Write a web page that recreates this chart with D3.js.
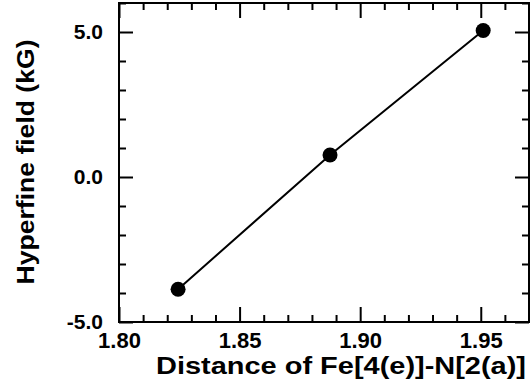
<!DOCTYPE html>
<html lang="en">
    <head>
        <meta charset="utf-8">
        <title>Hyperfine field</title>
        <script type="text/javascript" src="https://cdn.jsdelivr.net/npm/d3@7"></script>
        <style>
          body { margin: 0; background: white; }
          text { font-family: "Liberation Sans", Arial, sans-serif; font-weight: bold; }
        </style>
    </head>
    <body>
        <script type="text/javascript">

          // data
          var distance = [1.8245, 1.8875, 1.951];
          var field = [-3.87, 0.76, 5.05];

          // tick values and labels
          var xMajor = [1.80, 1.85, 1.90, 1.95];
          var xMajorLabels = ["1.80", "1.85", "1.90", "1.95"];
          var xMinor = [1.81, 1.82, 1.83, 1.84, 1.86, 1.87, 1.88, 1.89,
                        1.91, 1.92, 1.93, 1.94, 1.96];
          var yMajor = [-5, 0, 5];
          var yMajorLabels = ["-5.0", "0.0", "5.0"];
          var yMinor = [-4, -3, -2, -1, 1, 2, 3, 4, 6];

          // size of the svg and the plot box
          var width = 531;
          var height = 388;
          var boxLeft = 119;
          var boxRight = 529;
          var boxTop = 3;
          var boxBottom = 322;

          var svg = d3.select("body")
            .append("svg")
            .attr("width", width)
            .attr("height", height);

          // scales
          var xScale = d3.scaleLinear()
                         .domain([1.80, 1.97])
                         .range([boxLeft, boxRight]);
          var yScale = d3.scaleLinear()
                         .domain([-5, 6])
                         .range([boxBottom, boxTop]);

          // helper to draw one axis with inward ticks
          function drawAxis(axis, tx, ty, fontSize) {
            var g = svg.append("g")
               .attr("transform", "translate(" + [tx, ty] + ")")
               .call(axis);
            g.attr("font-size", fontSize).attr("font-family", null);
            g.select(".domain").remove();
            g.selectAll("line").attr("stroke", "black").attr("stroke-width", 2);
            g.selectAll("text").attr("fill", "black")
             .attr("font-size", fontSize)
             .style("font-size", fontSize + "px");
            return g;
          }

          // bottom axis
          drawAxis(d3.axisBottom(xScale).tickValues(xMajor).tickSizeInner(-15)
                     .tickSizeOuter(0).tickPadding(10)
                     .tickFormat(function(d, i) { return xMajorLabels[i]; }), 0, boxBottom, 22);
          drawAxis(d3.axisBottom(xScale).tickValues(xMinor).tickSizeInner(-7)
                     .tickSizeOuter(0).tickFormat(""), 0, boxBottom, 22);

          // top axis
          drawAxis(d3.axisTop(xScale).tickValues(xMajor).tickSizeInner(-15)
                     .tickSizeOuter(0).tickFormat(""), 0, boxTop, 22);
          drawAxis(d3.axisTop(xScale).tickValues(xMinor).tickSizeInner(-7)
                     .tickSizeOuter(0).tickFormat(""), 0, boxTop, 22);

          // left axis
          drawAxis(d3.axisLeft(yScale).tickValues(yMajor).tickSizeInner(-14)
                     .tickSizeOuter(0).tickPadding(16)
                     .tickFormat(function(d, i) { return yMajorLabels[i]; }), boxLeft, 0, 21);
          drawAxis(d3.axisLeft(yScale).tickValues(yMinor).tickSizeInner(-7)
                     .tickSizeOuter(0).tickFormat(""), boxLeft, 0, 21);

          // right axis
          drawAxis(d3.axisRight(yScale).tickValues(yMajor).tickSizeInner(-14)
                     .tickSizeOuter(0).tickFormat(""), boxRight, 0, 21);
          drawAxis(d3.axisRight(yScale).tickValues(yMinor).tickSizeInner(-7)
                     .tickSizeOuter(0).tickFormat(""), boxRight, 0, 21);

          // plot frame
          svg.append("rect")
             .attr("x", boxLeft)
             .attr("y", boxTop)
             .attr("width", boxRight - boxLeft)
             .attr("height", boxBottom - boxTop)
             .attr("fill", "none")
             .attr("stroke", "black")
             .attr("stroke-width", 2);

          // line through the points
          var points = distance.map(function(d, i) { return [d, field[i]]; });
          var line = d3.line()
                       .x(function(d) { return xScale(d[0]); })
                       .y(function(d) { return yScale(d[1]); });

          svg.append("path")
             .datum(points)
             .attr("d", line)
             .attr("fill", "none")
             .attr("stroke", "black")
             .attr("stroke-width", 2);

          svg.selectAll("circle")
             .data(points)
             .enter()
             .append("circle")
             .attr("cx", function(d) { return xScale(d[0]); })
             .attr("cy", function(d) { return yScale(d[1]); })
             .attr("r", 7.5)
             .attr("fill", "black");

          // x label, stretched to the width of the original
          svg.append("text")
             .attr("x", 341)
             .attr("y", 374)
             .attr("textLength", 370)
             .attr("lengthAdjust", "spacingAndGlyphs")
             .style("text-anchor", "middle")
             .style("font-size", "23px")
             .text("Distance of Fe[4(e)]-N[2(a)]");

          // y label
          svg.append("text")
             .attr("transform", "translate(" + [34, 162] + ") rotate(-90)")
             .attr("textLength", 245)
             .attr("lengthAdjust", "spacingAndGlyphs")
             .style("text-anchor", "middle")
             .style("font-size", "23px")
             .text("Hyperfine field (kG)");
        </script>
    </body>
</html>
